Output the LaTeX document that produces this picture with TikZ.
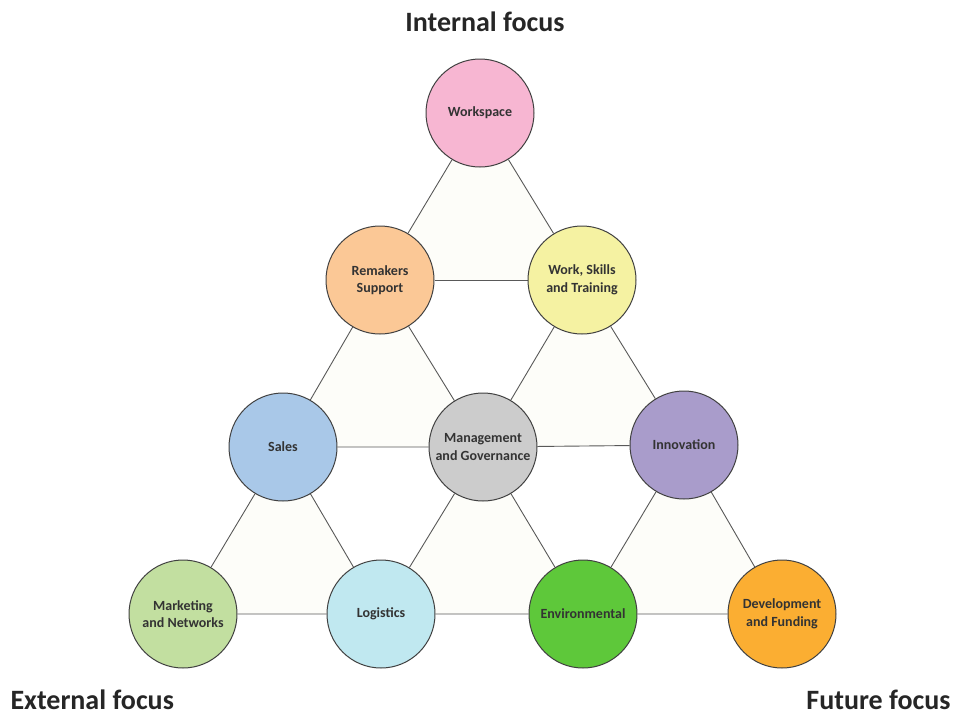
\documentclass[tikz,border=0pt]{standalone}
\usepackage{fontspec}
\setmainfont{Carlito}
\usetikzlibrary{backgrounds}
\definecolor{cpink}{HTML}{F7B6D2}
\definecolor{cpeach}{HTML}{FBC896}
\definecolor{cyellow}{HTML}{F5F2A2}
\definecolor{cblue}{HTML}{A9C8E8}
\definecolor{cgray}{HTML}{CCCCCC}
\definecolor{cpurple}{HTML}{A99CCB}
\definecolor{clgreen}{HTML}{C2DFA0}
\definecolor{ccyan}{HTML}{C0E8F0}
\definecolor{cgreen}{HTML}{5EC83A}
\definecolor{corange}{HTML}{FBAE32}
\definecolor{ccream}{HTML}{FDFDF9}
\tikzset{
  area/.style={circle, draw=black!75, line width=1pt, minimum size=108pt,
    inner sep=0pt, align=center, font=\fontsize{14}{17.5}\selectfont\bfseries,
    text=black!80},
  focus/.style={font=\fontsize{28}{32}\selectfont\bfseries, text=black!85},
  link/.style={draw=black!65, line width=0.9pt},
  tri/.style={fill=ccream}
}
\begin{document}
\begin{tikzpicture}[x=1pt, y=-1pt]
      \useasboundingbox (0, 0) rectangle (954, 716);

      \node [area, fill=cpink] (ws) at (480, 113) {Workspace};
      \node [area, fill=cpeach] (rs) at (380, 280) {Remakers\\Support};
      \node [area, fill=cyellow] (wst) at (582, 280) {Work, Skills\\and Training};
      \node [area, fill=cblue] (sa) at (283, 447) {Sales};
      \node [area, fill=cgray] (mg) at (483, 447) {Management\\and Governance};
      \node [area, fill=cpurple] (in) at (684, 445) {Innovation};
      \node [area, fill=clgreen] (mn) at (183, 614) {Marketing\\and Networks};
      \node [area, fill=ccyan] (lo) at (381, 614) {Logistics};
      \node [area, fill=cgreen] (en) at (583, 614) {Environmental};
      \node [area, fill=corange] (df) at (782, 614) {Development\\and Funding};

      \node [focus] (int) at (485, 22) {Internal focus};
      \node [focus, anchor=west] (ext) at (7, 700) {External focus};
      \node [focus, anchor=east] (fut) at (954, 700) {Future focus};

      \begin{pgfonlayer}{background}
        \fill [tri] (ws.center) -- (rs.center) -- (wst.center) -- cycle;
        \fill [tri] (rs.center) -- (sa.center) -- (mg.center) -- cycle;
        \fill [tri] (wst.center) -- (mg.center) -- (in.center) -- cycle;
        \fill [tri] (sa.center) -- (mn.center) -- (lo.center) -- cycle;
        \fill [tri] (mg.center) -- (lo.center) -- (en.center) -- cycle;
        \fill [tri] (in.center) -- (en.center) -- (df.center) -- cycle;

        \draw [link] (ws) -- (rs) -- (sa) -- (mn) -- (lo) -- (en) -- (df) -- (in) -- (wst) -- (ws);
        \draw [link] (rs) -- (wst);
        \draw [link] (sa) -- (mg) -- (in);
        \draw [link] (rs) -- (mg) -- (wst);
        \draw [link] (sa) -- (lo) -- (mg) -- (en) -- (in);
      \end{pgfonlayer}
    \end{tikzpicture}
\end{document}
